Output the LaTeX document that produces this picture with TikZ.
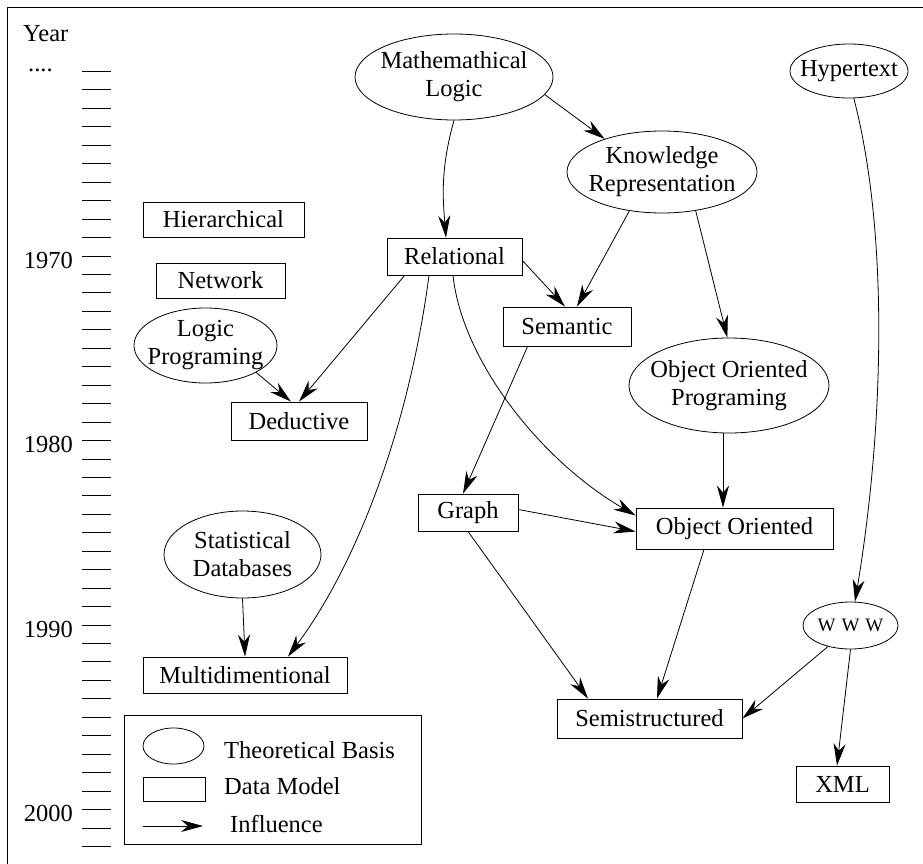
\documentclass[tikz,border=0pt]{standalone}
\usepackage{fontspec}
\setmainfont{Liberation Serif}
\usetikzlibrary{shapes.geometric,arrows.meta}
\begin{document}
\begin{tikzpicture}[x=1pt,y=-1pt,
  every node/.style={font=\fontsize{24.5}{28}\selectfont, inner sep=0pt},
  model/.style={draw, line width=0.8pt, rectangle},
  theory/.style={draw, line width=0.8pt, ellipse},
  txt/.style={label={[align=center]center:#1}},
  infl/.style={-{Stealth[length=22pt,width=12pt,inset=7pt]}, line width=0.8pt},
  yeartick/.style={line width=0.9pt},
]
\useasboundingbox (0,0) rectangle (923,864);

% frame
\draw[line width=1pt] (923,7.5) -- (7.5,7.5) -- (7.5,864);

% time scale
\foreach \k in {0,...,42}
  \draw[yeartick] (82,{71.5+18.45*\k}) -- (111,{71.5+18.45*\k});
\node[anchor=base west] (yearlbl) at (23,42) {Year};
\node[anchor=base west] (dots) at (28,72) {....};
\node[anchor=base east] (y1970) at (73,268) {1970};
\node[anchor=base east] (y1980) at (73,452.5) {1980};
\node[anchor=base east] (y1990) at (73,637) {1990};
\node[anchor=base east] (y2000) at (73,821.5) {2000};

% theoretical bases
\node[theory, minimum width=198pt, minimum height=86pt,
  txt={\fontsize{24.5}{25}\selectfont Mathemathical\\Logic}] (ml) at (454,77) {};
\node[theory, minimum width=190pt, minimum height=82pt,
  txt={\fontsize{24.5}{31}\selectfont Knowledge\\Representation}] (kr) at (662,172) {};
\node[theory, minimum width=118pt, minimum height=54pt, txt={Hypertext}] (hyp) at (849,71) {};
\node[theory, minimum width=143pt, minimum height=75pt,
  txt={\fontsize{24.5}{25}\selectfont Logic\\Programing}] (lp) at (205.5,345.5) {};
\node[theory, minimum width=200pt, minimum height=95pt,
  txt={\fontsize{24.5}{31}\selectfont Object Oriented\\Programing}] (oop) at (729,385.5) {};
\node[theory, minimum width=157pt, minimum height=87pt,
  txt={\fontsize{24.5}{31}\selectfont Statistical\\Databases}] (stat) at (242.5,554.5) {};
\node[theory, minimum width=95pt, minimum height=47pt,
  txt={\fontsize{19}{20}\selectfont W\hspace{6pt}W\hspace{6pt}W}] (www) at (850.5,625.5) {};

% data models
\node[model, minimum width=161pt, minimum height=35pt] (hier) at (223.5,219.5) {Hierarchical};
\node[model, minimum width=129pt, minimum height=35pt] (net) at (220.5,280.5) {Network};
\node[model, minimum width=135pt, minimum height=37pt] (rel) at (454.5,256.5) {Relational};
\node[model, minimum width=128pt, minimum height=39pt] (sem) at (567,326.5) {Semantic};
\node[model, minimum width=136pt, minimum height=38pt] (ded) at (299,421) {Deductive};
\node[model, minimum width=100pt, minimum height=37pt] (graph) at (468,512.5) {Graph};
\node[model, minimum width=197pt, minimum height=41pt] (oo) at (734.5,528.5) {Object Oriented};
\node[model, minimum width=204pt, minimum height=36pt] (multi) at (245,675) {Multidimentional};
\node[model, minimum width=185pt, minimum height=39pt] (semi) at (649.5,718.5) {Semistructured};
\node[model, minimum width=93pt, minimum height=36pt] (xml) at (842.5,784) {XML};

% influences
\draw[infl] (ml.south) .. controls (440,170) and (443,200) .. ([xshift=-8.5pt]rel.north);
\draw[infl] (ml.-11) -- (kr.150);
\draw[infl] (kr.-130) -- ([xshift=10pt]sem.north);
\draw[infl] (kr.-49) -- (oop.92);
\draw[infl] ([yshift=-4pt]rel.east) -- ([xshift=-2pt]sem.north);
\draw[infl] ([xshift=18pt]rel.south west) -- (ded.north);
\draw[infl] (lp.-28) -- ([xshift=-8pt]ded.north);
\draw[infl] ([xshift=-25.5pt]rel.south) .. controls (410,420) and (360,560) .. ([xshift=43pt]multi.north);
\draw[infl] ([xshift=-1.5pt]rel.south) .. controls (462,360) and (540,460) .. ([yshift=13pt]oo.west);
\draw[infl] ([xshift=25pt]sem.south west) -- ([xshift=-5pt]graph.north);
\draw[infl] ([yshift=3pt]graph.east) -- ([yshift=-3pt]oo.west);
\draw[infl] ([xshift=-6pt]oop.south) -- ([xshift=-11.5pt]oo.north);
\draw[infl] ([xshift=-30.5pt]oo.south) -- ([xshift=7.5pt]semi.north);
\draw[infl] (graph.south) -- ([xshift=-61.5pt]semi.north);
\draw[infl] (www.-137) -- (semi.east);
\draw[infl] (www.south) -- ([xshift=-5.5pt]xml.north);
\draw[infl] (hyp.-80) .. controls (888,230) and (885,420) .. ([xshift=4.5pt]www.north);
\draw[infl] (stat.south) -- (multi.north);

% legend
\node[draw, line width=0.8pt, minimum width=297pt, minimum height=129pt] (legend) at (272.5,779.5) {};
\node[theory, minimum width=61pt, minimum height=36pt] (lgth) at (173.5,746) {};
\node[model, minimum width=62pt, minimum height=24pt] (lgdm) at (174,789) {};
\coordinate (lgfrom) at (143,826);
\coordinate (lgto) at (203,826);
\draw[infl] (lgfrom) -- (lgto);
\node[anchor=base west] (lgthtxt) at (224,758) {Theoretical Basis};
\node[anchor=base west] (lgdmtxt) at (224,794) {Data Model};
\node[anchor=base west] (lgintxt) at (230,832) {Influence};
\end{tikzpicture}
\end{document}
